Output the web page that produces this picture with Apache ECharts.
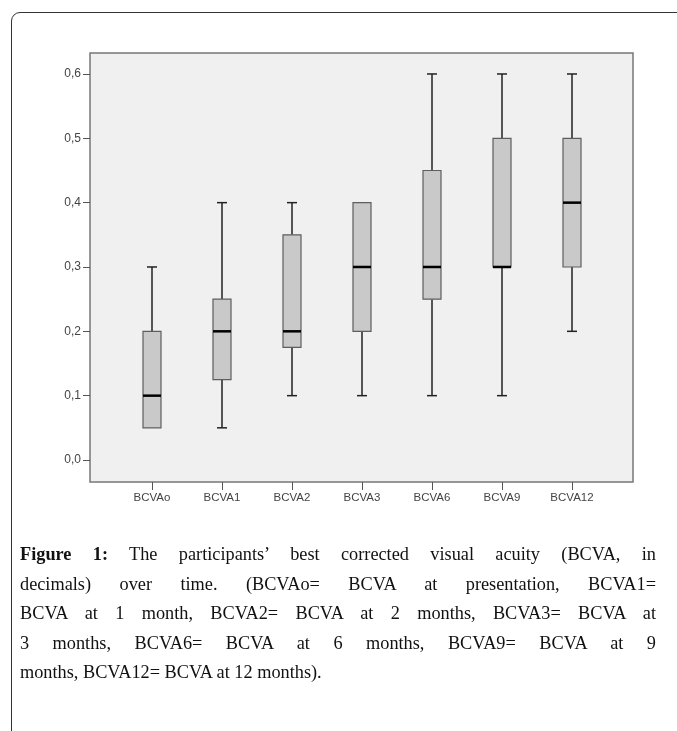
<!DOCTYPE html>
<html>
<head>
<meta charset="utf-8">
<script src="https://cdn.jsdelivr.net/npm/echarts@6/dist/echarts.min.js"></script>
<style>
html,body{margin:0;padding:0;background:#fff;width:677px;height:731px;overflow:hidden;}
#frame{position:absolute;left:11px;top:12px;width:720px;height:800px;border:1px solid #333;border-radius:9px;box-sizing:border-box;}
#chart{position:absolute;left:0;top:0;width:677px;height:731px;}
#caption{position:absolute;left:20px;top:540px;width:636px;font-family:"Liberation Serif","DejaVu Serif",serif;font-size:18.3px;line-height:29.5px;color:#111;}
#caption div{text-align:justify;text-align-last:justify;white-space:nowrap;}
#caption div.last{text-align-last:left;}
#caption b{font-weight:bold;}
</style>
</head>
<body>
<div id="frame"></div>
<div id="chart"></div>
<div id="caption">
<div><b>Figure 1:</b> The participants’ best corrected visual acuity (BCVA, in</div>
<div>decimals) over time. (BCVAo= BCVA at presentation, BCVA1=</div>
<div>BCVA at 1 month, BCVA2= BCVA at 2 months, BCVA3= BCVA at</div>
<div>3 months, BCVA6= BCVA at 6 months, BCVA9= BCVA at 9</div>
<div class="last">months, BCVA12= BCVA at 12 months).</div>
</div>
<script>
const categories = ['BCVAo','BCVA1','BCVA2','BCVA3','BCVA6','BCVA9','BCVA12'];
const whiskerLow = [0.05, 0.05, 0.10, 0.10, 0.10, 0.10, 0.20];
const q1         = [0.05, 0.125, 0.175, 0.20, 0.25, 0.30, 0.30];
const median     = [0.10, 0.20, 0.20, 0.30, 0.30, 0.30, 0.40];
const q3         = [0.20, 0.25, 0.35, 0.40, 0.45, 0.50, 0.50];
const whiskerHigh= [0.30, 0.40, 0.40, 0.40, 0.60, 0.60, 0.60];
const yTicks = [0, 0.1, 0.2, 0.3, 0.4, 0.5, 0.6];

const data = categories.map((c,i)=>[i, whiskerLow[i], q1[i], median[i], q3[i], whiskerHigh[i]]);

const chart = echarts.init(document.getElementById('chart'), null, {renderer:'canvas'});
const BOXW = 18, CAPW = 10;
chart.setOption({
  animation:false,
  graphic:[{
    type:'rect', z:0, silent:true,
    shape:{x:90, y:53, width:543, height:429},
    style:{fill:'#f0f0f0', stroke:'#777', lineWidth:1.5}
  }],
  grid:{left:117, right:70, top:53, bottom:249},
  xAxis:{
    type:'category', data:categories, boundaryGap:true,
    axisLine:{show:false, onZero:false},
    axisTick:{show:true, alignWithLabel:true, length:8, lineStyle:{color:'#555'}},
    axisLabel:{color:'#444', fontFamily:'Liberation Sans, Arial, sans-serif', fontSize:11.5, margin:10}
  },
  yAxis:{
    type:'value', min:-0.0342, max:0.6326, offset:27,
    axisLine:{show:false, onZero:false},
    axisTick:{show:true, length:7, customValues:yTicks, lineStyle:{color:'#555'}},
    splitLine:{show:false},
    axisLabel:{color:'#444', fontFamily:'Liberation Sans, Arial, sans-serif', fontSize:12, margin:9,
      customValues:yTicks, formatter:v=>v.toFixed(1).replace('.',',')}
  },
  series:[{
    type:'custom', z:5,
    data:data,
    encode:{x:0, y:[1,2,3,4,5]},
    renderItem:function(params, api){
      const x = api.coord([api.value(0), 0])[0];
      const yLo = api.coord([api.value(0), api.value(1)])[1];
      const yQ1 = api.coord([api.value(0), api.value(2)])[1];
      const yMed = api.coord([api.value(0), api.value(3)])[1];
      const yQ3 = api.coord([api.value(0), api.value(4)])[1];
      const yHi = api.coord([api.value(0), api.value(5)])[1];
      const wStyle = {stroke:'#222', lineWidth:1.5};
      const children = [];
      if (Math.abs(yHi-yQ3)>0.5){
        children.push({type:'line', shape:{x1:x,y1:yQ3,x2:x,y2:yHi}, style:wStyle});
        children.push({type:'line', shape:{x1:x-CAPW/2,y1:yHi,x2:x+CAPW/2,y2:yHi}, style:wStyle});
      }
      if (Math.abs(yLo-yQ1)>0.5){
        children.push({type:'line', shape:{x1:x,y1:yQ1,x2:x,y2:yLo}, style:wStyle});
        children.push({type:'line', shape:{x1:x-CAPW/2,y1:yLo,x2:x+CAPW/2,y2:yLo}, style:wStyle});
      }
      children.push({type:'rect', shape:{x:x-BOXW/2, y:yQ3, width:BOXW, height:yQ1-yQ3},
        style:{fill:'#c9c9c9', stroke:'#5e5e5e', lineWidth:1.2}});
      children.push({type:'line', shape:{x1:x-BOXW/2,y1:yMed,x2:x+BOXW/2,y2:yMed},
        style:{stroke:'#000', lineWidth:2.5}});
      return {type:'group', children:children};
    }
  }]
});
</script>
</body>
</html>
